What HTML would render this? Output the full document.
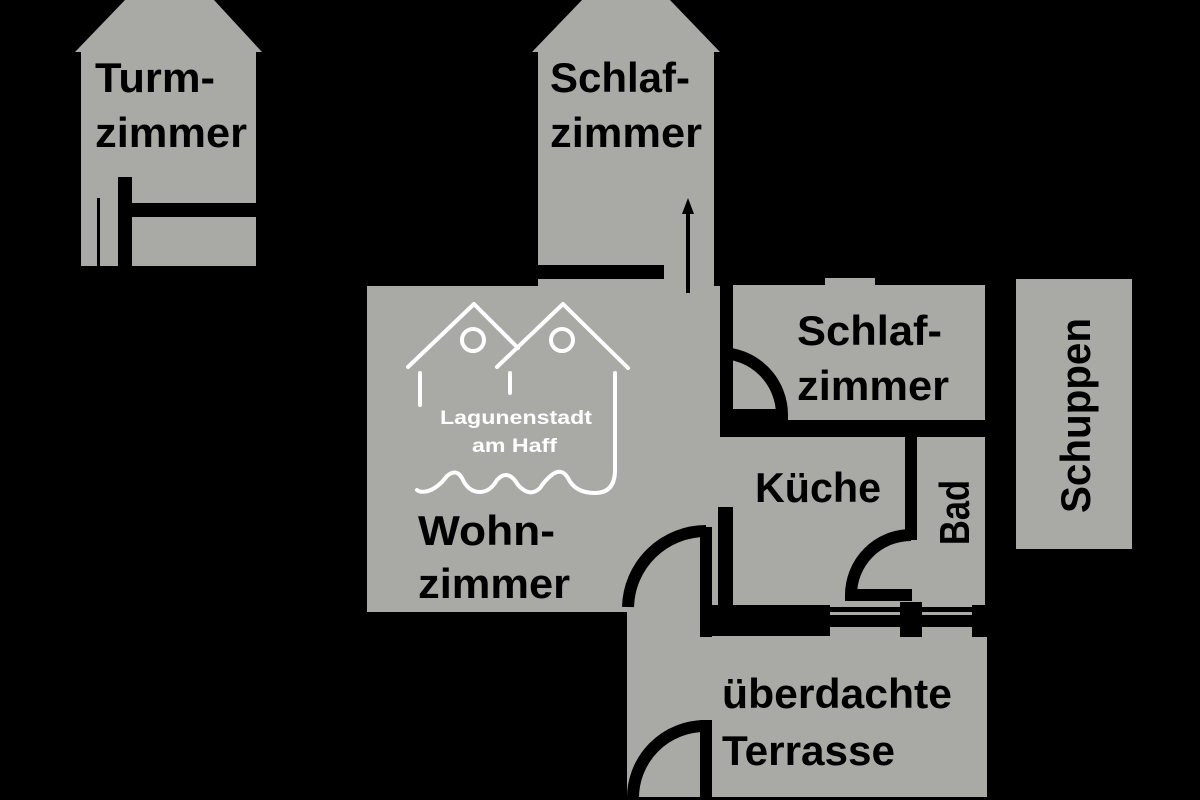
<!DOCTYPE html>
<html><head><meta charset="utf-8"><style>
html,body{margin:0;padding:0;background:#000;width:1200px;height:800px;overflow:hidden}
svg{display:block}
text{font-family:"Liberation Sans","DejaVu Sans",sans-serif;font-weight:bold;fill:#000}
</style></head><body>
<svg width="1200" height="800" viewBox="0 0 1200 800">
<rect width="1200" height="800" fill="#000"/>
<g fill="#a9a9a6">
<polygon points="81,266 81,52 75,52 125,0 214,0 262,52 256,52 256,266"/>
<polygon points="538,286 538,52 532,52 582,0 670,0 720,52 714,52 714,286"/>
<rect x="367" y="286" width="353" height="326"/>
<rect x="733" y="285" width="252" height="322"/>
<rect x="718" y="437" width="17" height="70"/>
<rect x="825" y="278" width="50" height="10"/>
<rect x="612" y="605" width="100" height="32"/>
<rect x="627" y="612" width="360" height="185"/>
<rect x="1016" y="279" width="116" height="270"/>
</g>
<g fill="#000">
<rect x="118" y="177" width="14" height="90"/>
<rect x="132" y="203" width="125" height="14"/>
<rect x="97" y="198" width="3" height="68"/>
<rect x="538" y="265" width="126" height="14"/>
<rect x="686" y="212" width="4" height="81"/>
<polygon points="688,198 682,214 694,214"/>
<rect x="720" y="285" width="13" height="62"/>
<rect x="720" y="420" width="267" height="17"/>
<rect x="905" y="437" width="12" height="103"/>
<rect x="700" y="527" width="12" height="110"/>
<rect x="718" y="507" width="14" height="100"/>
<rect x="700" y="605" width="130" height="31"/>
<rect x="830" y="615" width="157" height="12"/>
<rect x="900" y="602" width="22" height="35"/>
<rect x="972" y="605" width="18" height="32"/>
<rect x="985" y="285" width="15" height="352"/>
<rect x="612" y="612" width="15" height="190"/>
<rect x="700" y="720" width="12" height="80"/>
<rect x="600" y="797" width="400" height="5"/>
</g>
<g fill="none" stroke="#000" stroke-width="12">
<path d="M720,353 A62,62 0 0 1 782,415 L727,415"/>
<path d="M628,607 A78,78 0 0 1 706,531"/>
<path d="M911,535 A60,60 0 0 0 851,595 L912,595"/>
<path d="M633,800 A72,72 0 0 1 706,726"/>
</g>
<g fill="none" stroke="#fff" stroke-width="4" stroke-linecap="round" stroke-linejoin="round">
<polyline points="408,367 474,304 518,348"/>
<polyline points="497,367 563,304 628,368"/>
<line x1="420" y1="373" x2="420" y2="405"/>
<line x1="510" y1="373" x2="510" y2="393"/>
<circle cx="473" cy="340" r="11"/>
<circle cx="562" cy="340" r="11"/>
<path d="M615,373 L615,470 Q615,493 595,493 Q575,493 568,478 Q562,468 553,474 Q545,480 540,488 Q530,498 518,485 Q508,468 497,480 Q490,492 480,492 Q468,492 462,478 Q456,468 447,476 Q438,488 428,491 Q420,493 417,490"/>
</g>
<text x="440" y="424" font-size="19" style="fill:#fff" textLength="152" lengthAdjust="spacingAndGlyphs">Lagunenstadt</text>
<text x="472" y="452" font-size="19" style="fill:#fff" textLength="85" lengthAdjust="spacingAndGlyphs">am Haff</text>
<g font-size="42">
<text x="95" y="92" textLength="120" lengthAdjust="spacingAndGlyphs">Turm-</text>
<text x="95" y="147" textLength="152" lengthAdjust="spacingAndGlyphs">zimmer</text>
<text x="550" y="92" textLength="140" lengthAdjust="spacingAndGlyphs">Schlaf-</text>
<text x="550" y="147" textLength="152" lengthAdjust="spacingAndGlyphs">zimmer</text>
<text x="797" y="345" textLength="145" lengthAdjust="spacingAndGlyphs">Schlaf-</text>
<text x="797" y="400" textLength="152" lengthAdjust="spacingAndGlyphs">zimmer</text>
<text x="755" y="502" textLength="126" lengthAdjust="spacingAndGlyphs">Küche</text>
<text x="418" y="545" textLength="137" lengthAdjust="spacingAndGlyphs">Wohn-</text>
<text x="418" y="598" textLength="152" lengthAdjust="spacingAndGlyphs">zimmer</text>
<text x="722" y="708" textLength="230" lengthAdjust="spacingAndGlyphs">überdachte</text>
<text x="722" y="765" textLength="173" lengthAdjust="spacingAndGlyphs">Terrasse</text>
<text transform="translate(969,545) rotate(-90)" textLength="65" lengthAdjust="spacingAndGlyphs">Bad</text>
<text transform="translate(1090,513) rotate(-90)" textLength="195" lengthAdjust="spacingAndGlyphs">Schuppen</text>
</g>
</svg>
</body></html>
